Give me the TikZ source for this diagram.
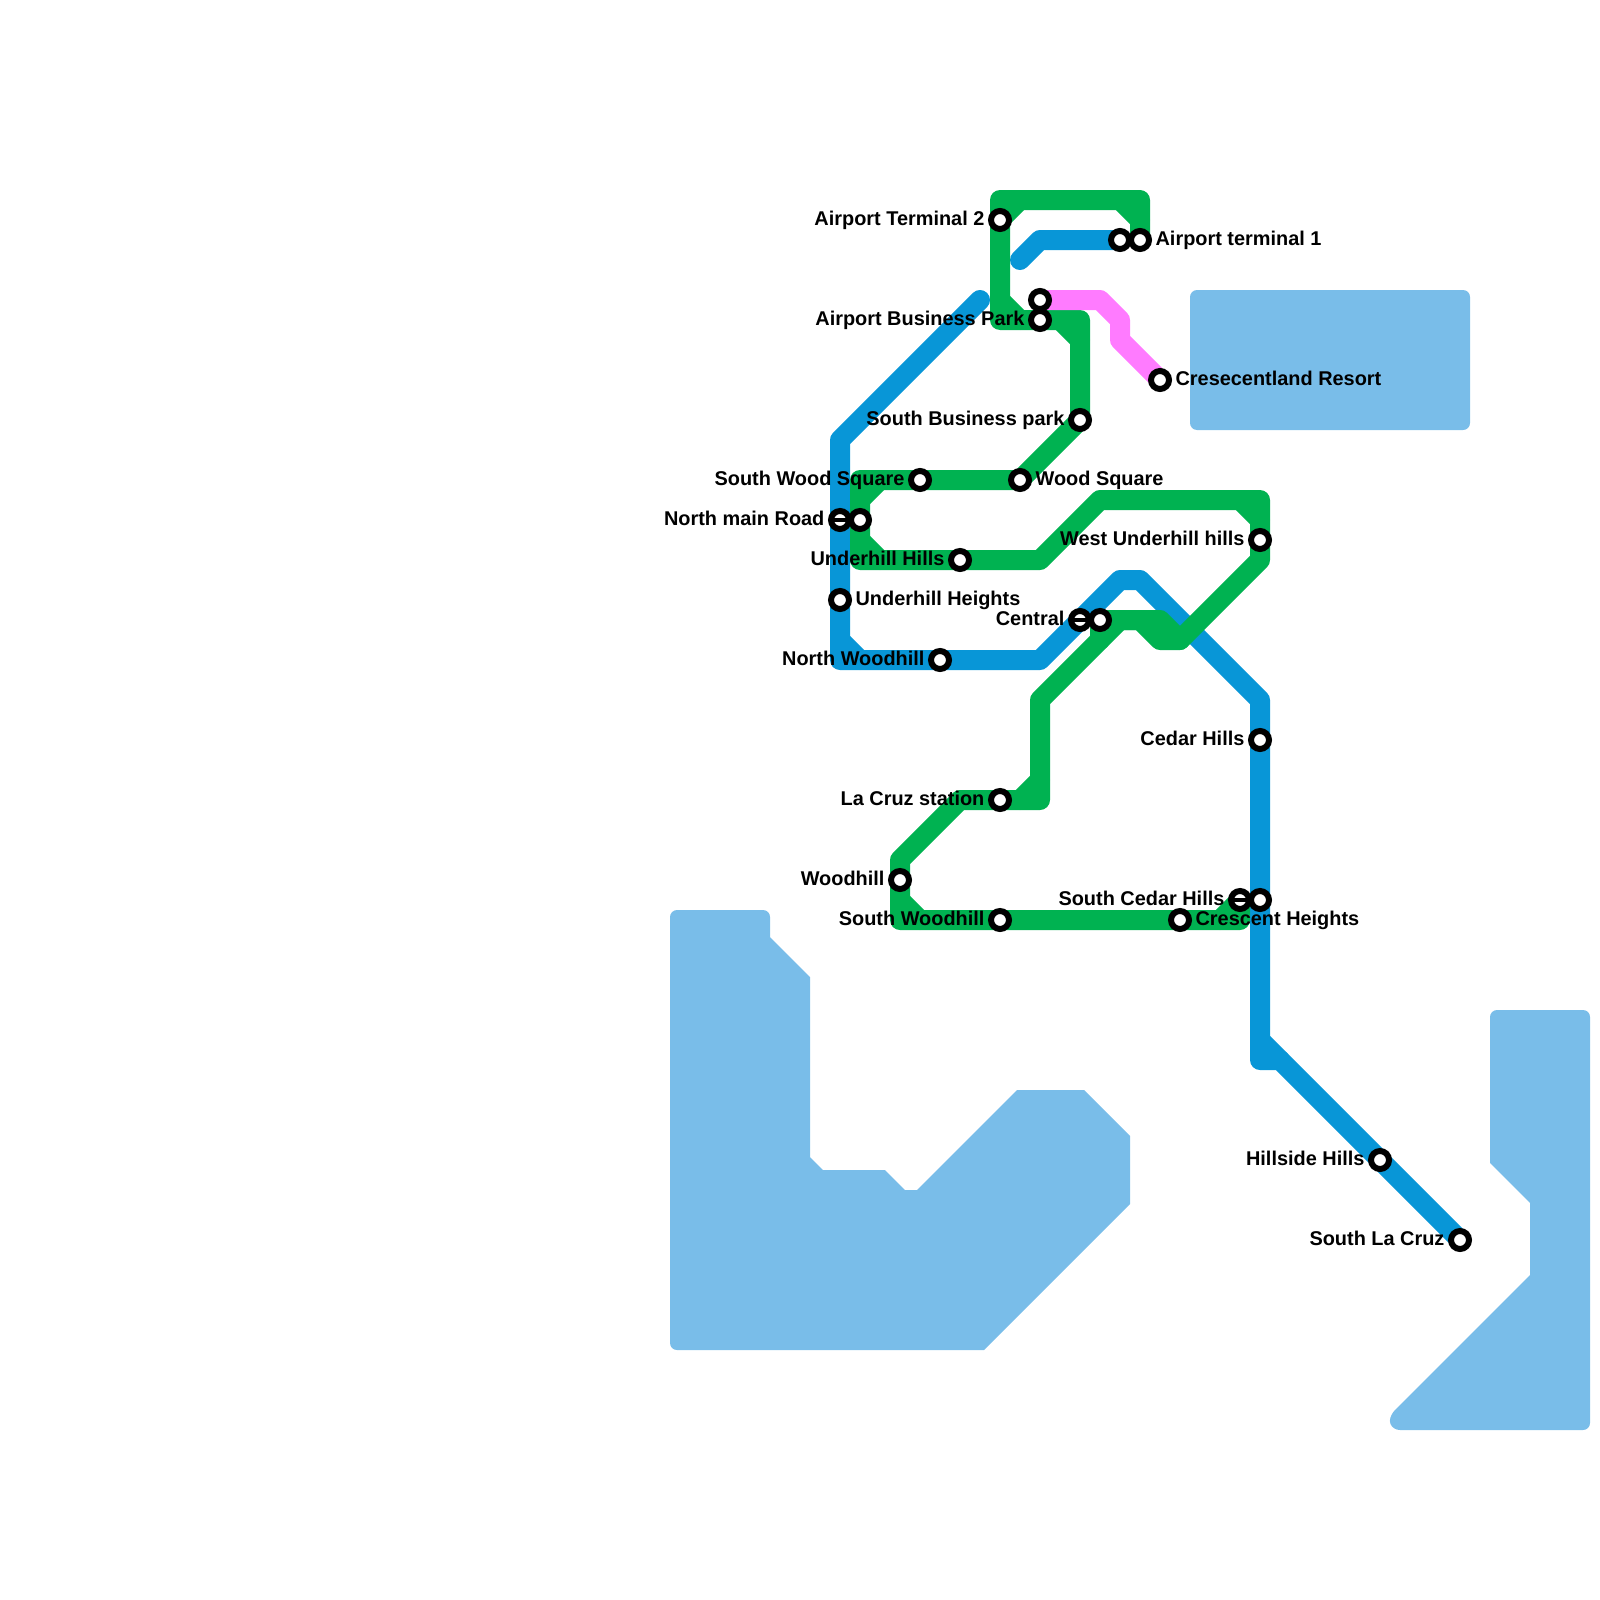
\documentclass[tikz,border=0pt]{standalone}
\usepackage{fontspec}
\setmainfont{Liberation Sans}
\pgfdeclarelayer{waterlayer}
\pgfdeclarelayer{linelayer}
\pgfsetlayers{waterlayer,linelayer,main}
\definecolor{water}{HTML}{79BDE9}
\definecolor{lineblue}{HTML}{0896D7}
\definecolor{linegreen}{HTML}{00B251}
\definecolor{linepink}{HTML}{FF7BFF}
\tikzset{
  waterarea/.style={fill=water,draw=none},
  metro/.style={line width=10pt,line cap=round,line join=round},
  blueline/.style={metro,draw=lineblue},
  greenline/.style={metro,draw=linegreen},
  pinkline/.style={metro,draw=linepink},
  stn/.style={circle,draw=black,fill=white,line width=3pt,minimum size=9pt,inner sep=0pt},
  xstn/.style={stn,path picture={\draw[black,line width=2.2pt] (path picture bounding box.west)--(path picture bounding box.east);}},
  lbl/.style={font=\bfseries\fontsize{9.95pt}{11pt}\selectfont,text=black,inner sep=0pt},
  lleft/.style={lbl,anchor=base east},
  lright/.style={lbl,anchor=base west},
}
\begin{document}
\begin{tikzpicture}[x=0.5pt,y=-0.5pt]
\useasboundingbox (0,0) rectangle (1600,1600);
% stations
\node[stn] (at2) at (1000,220) {};
\node[stn] (at1) at (1140,240) {};
\node[stn] (at1b) at (1120,240) {};
\node[stn] (pk) at (1040,300) {};
\node[stn] (abp) at (1040,320) {};
\node[stn] (crr) at (1160,380) {};
\node[stn] (sbp) at (1080,420) {};
\node[stn] (sws) at (920,480) {};
\node[stn] (ws) at (1020,480) {};
\node[xstn] (nmr) at (840,520) {};
\node[stn] (nmrb) at (860,520) {};
\node[stn] (wuh) at (1260,540) {};
\node[stn] (uhh) at (960,560) {};
\node[stn] (uht) at (840,600) {};
\node[xstn] (cen) at (1080,620) {};
\node[stn] (cenb) at (1100,620) {};
\node[stn] (nwh) at (940,660) {};
\node[stn] (ced) at (1260,740) {};
\node[stn] (lcs) at (1000,800) {};
\node[stn] (wh) at (900,880) {};
\node[xstn] (sch) at (1240,900) {};
\node[stn] (schb) at (1260,900) {};
\node[stn] (swh) at (1000,920) {};
\node[stn] (crh) at (1180,920) {};
\node[stn] (hil) at (1380,1160) {};
\node[stn] (slc) at (1460,1240) {};
% labels
\node[lleft] (l1) at ([xshift=-7.6pt,yshift=-2.5pt]at2.center) {Airport Terminal 2};
\node[lleft] (l2) at ([xshift=-7.6pt,yshift=-2.5pt]abp.center) {Airport Business Park};
\node[lleft] (l3) at ([xshift=-7.6pt,yshift=-2.5pt]sbp.center) {South Business park};
\node[lleft] (l4) at ([xshift=-7.6pt,yshift=-2.5pt]sws.center) {South Wood Square};
\node[lleft] (l5) at ([xshift=-7.6pt,yshift=-2.5pt]nmr.center) {North main Road};
\node[lleft] (l6) at ([xshift=-7.6pt,yshift=-2.5pt]uhh.center) {Underhill Hills};
\node[lleft] (l7) at ([xshift=-7.6pt,yshift=-2.5pt]wuh.center) {West Underhill hills};
\node[lleft] (l8) at ([xshift=-7.6pt,yshift=-2.5pt]cen.center) {Central};
\node[lleft] (l9) at ([xshift=-7.6pt,yshift=-2.5pt]nwh.center) {North Woodhill};
\node[lleft] (l10) at ([xshift=-7.6pt,yshift=-2.5pt]ced.center) {Cedar Hills};
\node[lleft] (l11) at ([xshift=-7.6pt,yshift=-2.5pt]lcs.center) {La Cruz station};
\node[lleft] (l12) at ([xshift=-7.6pt,yshift=-2.5pt]wh.center) {Woodhill};
\node[lleft] (l13) at ([xshift=-7.6pt,yshift=-2.5pt]swh.center) {South Woodhill};
\node[lleft] (l14) at ([xshift=-7.6pt,yshift=-2.5pt]sch.center) {South Cedar Hills};
\node[lleft] (l15) at ([xshift=-7.6pt,yshift=-2.5pt]hil.center) {Hillside Hills};
\node[lleft] (l16) at ([xshift=-7.6pt,yshift=-2.5pt]slc.center) {South La Cruz};
\node[lright] (r1) at ([xshift=7.6pt,yshift=-2.5pt]at1.center) {Airport terminal 1};
\node[lright] (r2) at ([xshift=7.6pt,yshift=-2.5pt]crr.center) {Cresecentland Resort};
\node[lright] (r3) at ([xshift=7.6pt,yshift=-2.5pt]ws.center) {Wood Square};
\node[lright] (r4) at ([xshift=7.6pt,yshift=-2.5pt]uht.center) {Underhill Heights};
\node[lright] (r5) at ([xshift=7.6pt,yshift=-2.5pt]crh.center) {Crescent Heights};
% water
\begin{pgfonlayer}{waterlayer}
\fill[waterarea,rounded corners=3.5pt] (670,1000)--(670,910)--(770,910)--(770,925)[sharp corners]--(770,937)--(810,977)--(810,1157)--(823,1170)--(885,1170)--(905,1190)--(917,1190)--(1017,1090)--(1084,1090)--(1130,1136)--(1130,1204)--(984,1350)[rounded corners=3.5pt]--(670,1350)--cycle;
\fill[waterarea,rounded corners=3.5pt] (1190,290) rectangle (1470,430);
\fill[waterarea,rounded corners=3.5pt] (1540,1010)--(1590,1010)--(1590,1430)--(1500,1430)[sharp corners]--(1400,1430) .. controls (1392,1430) and (1384,1421) .. (1396,1409)--(1530,1275)--(1530,1203)--(1490,1163)--(1490,1030)[rounded corners=3.5pt]--(1490,1010)--cycle;
\end{pgfonlayer}
% lines
\begin{pgfonlayer}{linelayer}
\draw[blueline] (1020,260)--(1040,240)--(at1b.center);
\draw[blueline] (980,300)--(840,440)--(nmr.center)--(uht.center)--(840,660)--(nwh.center)--(1040,660)--(1120,580)--(1140,580)--(1260,700)--(ced.center)--(schb.center)--(1260,1060)--(1280,1060)--(hil.center)--(slc.center);
\draw[blueline] (840,640)--(860,660);
\draw[blueline] (1260,1040)--(1280,1060);
\draw[greenline] (at1.center)--(1140,200)--(1000,200)--(at2.center)--(1000,320)--(abp.center)--(1080,320)--(sbp.center)--(ws.center)--(sws.center)--(860,480)--(nmrb.center)--(860,560)--(uhh.center)--(1040,560)--(1100,500)--(1260,500)--(wuh.center)--(1260,560)--(1180,640)--(1160,640)--(1140,620)--(cenb.center)--(1100,640);
\draw[greenline] (cenb.center)--(1160,620)--(1180,640);
\draw[greenline] (1120,620)--(1040,700)--(1040,800)--(lcs.center)--(960,800)--(900,860)--(wh.center)--(900,920)--(swh.center)--(crh.center)--(1240,920)--(sch.center);
\draw[greenline] (1140,220)--(1120,200);
\draw[greenline] (at2.center)--(1020,200);
\draw[greenline] (1000,300)--(1020,320);
\draw[greenline] (1060,320)--(1080,340);
\draw[greenline] (860,500)--(880,480);
\draw[greenline] (860,540)--(880,560);
\draw[greenline] (1240,500)--(1260,520);
\draw[greenline] (1040,780)--(1020,800);
\draw[greenline] (900,900)--(920,920);
\draw[greenline] (1220,920)--(sch.center);
\draw[pinkline] (pk.center)--(1100,300)--(1120,320)--(1120,340)--(crr.center);
\end{pgfonlayer}
\end{tikzpicture}
\end{document}
